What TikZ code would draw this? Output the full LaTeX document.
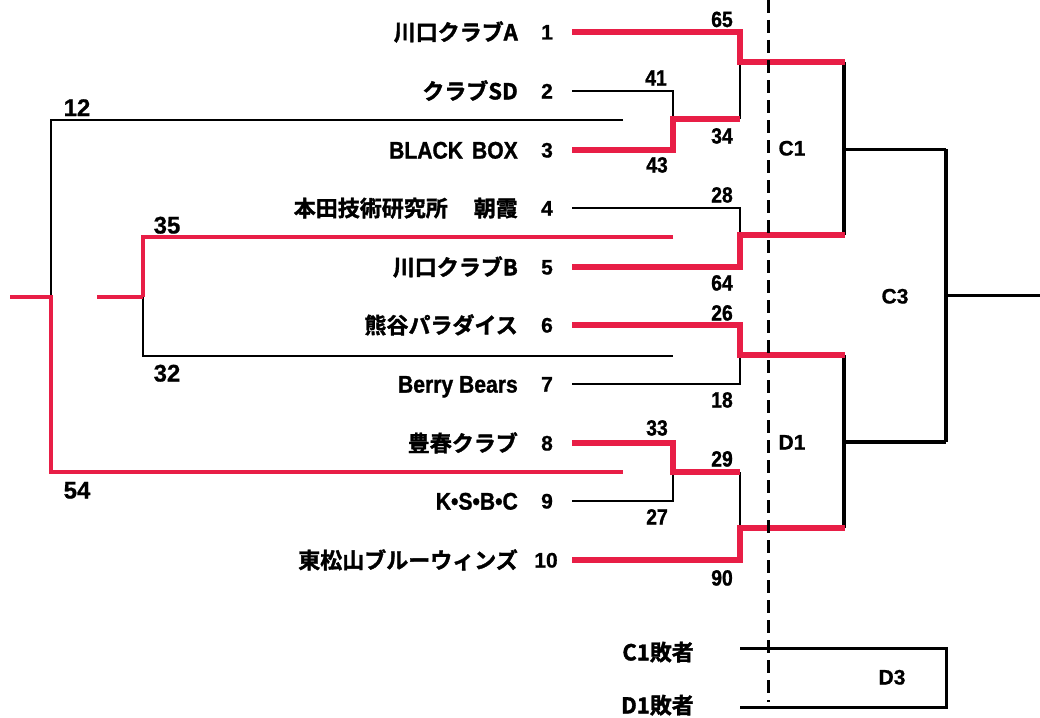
\documentclass[tikz,border=0pt]{standalone}
\usepackage{fontspec}
\newfontfamily\jp{Noto Sans CJK JP Bold}[FakeBold=1.6]
\newfontfamily\latn{Liberation Sans Bold}[FakeStretch=0.88,FakeBold=1.2]
\newfontfamily\latw{Liberation Sans Bold}[FakeBold=0.8]
\definecolor{bred}{RGB}{232,30,70}
\tikzset{
  redw/.style={draw=bred, line width=5.5pt},
  redm/.style={draw=bred, line width=4pt},
  blk/.style={draw=black, line width=1.8pt},
  blkm/.style={draw=black, line width=3pt},
  blkb/.style={draw=black, line width=4pt},
  jpname/.style={font={\jp\fontsize{22}{24}\selectfont}, inner sep=0pt, anchor=base east},
  laname/.style={font={\latn\fontsize{24}{26}\selectfont}, inner sep=0pt, anchor=base east},
  seed/.style={font={\latw\fontsize{21}{23}\selectfont}, inner sep=0pt, anchor=base},
  score/.style={font={\latn\fontsize{22}{24}\selectfont}, inner sep=0pt, anchor=base},
  lscore/.style={font={\latw\fontsize{24}{26}\selectfont}, inner sep=0pt, anchor=base},
  glabel/.style={font={\latw\fontsize{21}{23}\selectfont}, inner sep=0pt, anchor=base},
}
\begin{document}
\begin{tikzpicture}[x=1pt,y=-1pt]
\useasboundingbox[fill=white] (0,0) rectangle (1040,717);

% team line starts
\coordinate (t1) at (572,32);
\coordinate (t2) at (572,91);
\coordinate (t3) at (572,150);
\coordinate (t4) at (572,208);
\coordinate (t5) at (572,267);
\coordinate (t6) at (572,325);
\coordinate (t7) at (572,384);
\coordinate (t8) at (572,443);
\coordinate (t9) at (572,501);
\coordinate (t10) at (572,560);
% match points
\coordinate (m1) at (740,62);
\coordinate (m23) at (673,119);
\coordinate (m23r) at (740,119);
\coordinate (m45) at (740,235);
\coordinate (m67) at (740,355);
\coordinate (m89) at (673,472);
\coordinate (m89r) at (740,472);
\coordinate (m10) at (740,528);
\coordinate (c1a) at (844,62);
\coordinate (c1b) at (844,235);
\coordinate (c1o) at (844,149);
\coordinate (d1a) at (844,355);
\coordinate (d1b) at (844,528);
\coordinate (d1o) at (844,442);
\coordinate (c3a) at (946,149);
\coordinate (c3b) at (946,442);
\coordinate (c3o) at (946,295);
\coordinate (fin) at (1040,295);
% left bracket
\coordinate (l12) at (623,120);
\coordinate (l54) at (623,472);
\coordinate (lj) at (51,297);
\coordinate (lin) at (10,297);
\coordinate (l35) at (673,237);
\coordinate (l32) at (673,356);
\coordinate (kj) at (143,297);
\coordinate (kin) at (97,297);
% dashed divider
\coordinate (dv1) at (768,0);
\coordinate (dv2) at (768,702);
% consolation
\coordinate (c1l) at (740,648);
\coordinate (d1l) at (740,707);
\coordinate (d3b) at (946,707);

% black (losing) lines first
\draw[blk] (m1) -- (m23r);
\draw[blk] (t2) -| (m23);
\draw[blk] (t4) -| (m45);
\draw[blk] (t7) -| (m67);
\draw[blk] (t9) -| (m89);
\draw[blk] (m89r) -- (m10);
\draw[blkb] (c1a) -- (c1b);
\draw[blkm] (c1o) -- (c3a);
\draw[blkb] (d1a) -- (d1b);
\draw[blkb] (d1o) -- (c3b);
\draw[blkb] (c3a) -- (c3b);
\draw[blkm] (c3o) -- (fin);
\draw[blk] (l12) -| (lj);
\draw[blk] (kj) |- (l32);

% red (winning) lines
\draw[redw] (t1) -| (m1) -- ([xshift=1pt]c1a);
\draw[redw] (t3) -| (m23) -- (m23r);
\draw[redw] (t5) -| (m45) -- ([xshift=1pt]c1b);
\draw[redw] (t6) -| (m67) -- ([xshift=1pt]d1a);
\draw[redw] (t8) -| (m89) -- (m89r);
\draw[redw] (t10) -| (m10) -- ([xshift=1pt]d1b);
\draw[redm] (lin) -- (lj) |- (l54);
\draw[redm] (kin) -- (kj);
\draw[redm] (l35) -| (kj);

% dashed divider
\draw[line width=3pt, dash pattern=on 13pt off 7pt] (dv1) -- (dv2);

% consolation bracket
\draw[blkm] (c1l) -| (d3b) -- (d1l);

% team names
\node[jpname] (n1) at (518,40.4) {川口クラブA};
\node[jpname] (n2) at (518,99.4) {クラブSD};
\node[laname] (n3) at (518,158.6) {BLACK\hspace{9pt}BOX};
\node[jpname] (n4) at (518,216.4) {本田技術研究所\hspace{4pt}　朝霞};
\node[jpname] (n5) at (518,275.4) {川口クラブB};
\node[jpname] (n6) at (518,333.4) {熊谷パラダイス};
\node[laname] (n7) at (518,392.6) {Berry Bears};
\node[jpname] (n8) at (518,451.4) {豊春クラブ};
\node[laname] (n9) at (518,509.6) {K•S•B•C};
\node[jpname] (n10) at (518,568.4) {東松山ブルーウィンズ};

% seeds
\node[seed] (s1) at (547,39.5) {1};
\node[seed] (s2) at (547,98.5) {2};
\node[seed] (s3) at (547,157.5) {3};
\node[seed] (s4) at (547,215.5) {4};
\node[seed] (s5) at (547,274.5) {5};
\node[seed] (s6) at (547,332.5) {6};
\node[seed] (s7) at (547,391.5) {7};
\node[seed] (s8) at (547,450.5) {8};
\node[seed] (s9) at (547,508.5) {9};
\node[seed] (s10) at (546,567.5) {10};

% scores
\node[score] (p65) at (722,27) {65};
\node[score] (p41) at (656,85.5) {41};
\node[score] (p34) at (722,143.5) {34};
\node[score] (p43) at (657,172.5) {43};
\node[score] (p28) at (722,202.5) {28};
\node[score] (p64) at (722,290.5) {64};
\node[score] (p26) at (722,320.5) {26};
\node[score] (p18) at (722,407.5) {18};
\node[score] (p33) at (657,435.5) {33};
\node[score] (p29) at (722,466.5) {29};
\node[score] (p27) at (657,524.5) {27};
\node[score] (p90) at (722,585.5) {90};
\node[lscore] (q12) at (77,116) {12};
\node[lscore] (q35) at (167,233.5) {35};
\node[lscore] (q32) at (167,381.5) {32};
\node[lscore] (q54) at (77,498.5) {54};

% game labels
\node[glabel] (gc1) at (792,155.5) {C1};
\node[glabel] (gd1) at (792,449.5) {D1};
\node[glabel] (gc3) at (895,303.5) {C3};
\node[glabel] (gd3) at (892,684.5) {D3};

% consolation labels
\node[jpname] (lc1) at (694,660.4) {C1敗者};
\node[jpname] (ld1) at (694,713.5) {D1敗者};
\end{tikzpicture}
\end{document}
